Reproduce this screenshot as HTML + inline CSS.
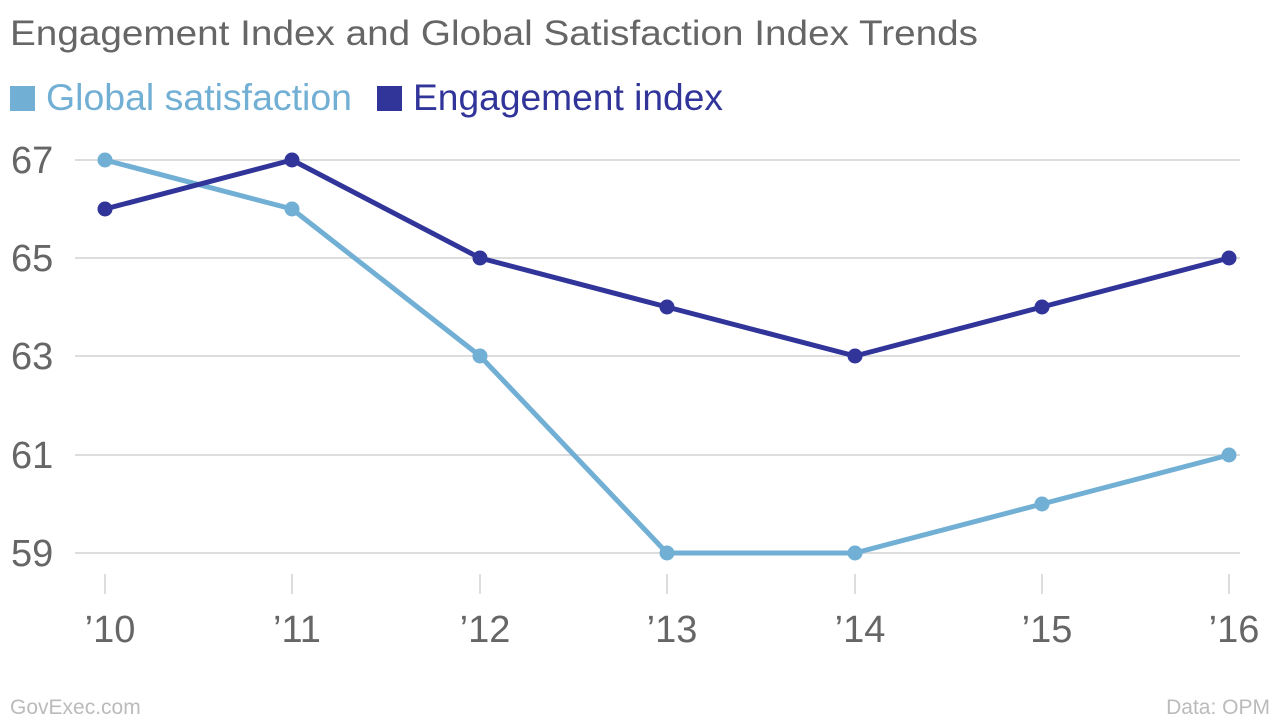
<!DOCTYPE html>
<html><head><meta charset="utf-8"><style>
body{margin:0;background:#fff;width:1280px;height:720px;overflow:hidden;font-family:"Liberation Sans",sans-serif}
</style></head><body>
<svg width="1280" height="720" xmlns="http://www.w3.org/2000/svg" font-family="Liberation Sans, sans-serif">
<text x="10" y="45" font-size="35" fill="#666" textLength="968" lengthAdjust="spacingAndGlyphs">Engagement Index and Global Satisfaction Index Trends</text>
<rect x="10" y="86" width="25" height="25" fill="#72afd4"/>
<text x="46" y="110" font-size="37" fill="#72afd4" textLength="306" lengthAdjust="spacingAndGlyphs">Global satisfaction</text>
<rect x="377" y="86" width="25" height="25" fill="#31359a"/>
<text x="413" y="110" font-size="37" fill="#31359a" textLength="310" lengthAdjust="spacingAndGlyphs">Engagement index</text>
<g stroke="#ddd" stroke-width="2">
<line x1="75" x2="1240" y1="160" y2="160"/><line x1="75" x2="1240" y1="258" y2="258"/>
<line x1="75" x2="1240" y1="356" y2="356"/><line x1="75" x2="1240" y1="455" y2="455"/>
<line x1="75" x2="1240" y1="553" y2="553"/>
<line x1="105" x2="105" y1="574" y2="594"/><line x1="292" x2="292" y1="574" y2="594"/>
<line x1="480" x2="480" y1="574" y2="594"/><line x1="667" x2="667" y1="574" y2="594"/>
<line x1="855" x2="855" y1="574" y2="594"/><line x1="1042" x2="1042" y1="574" y2="594"/>
<line x1="1229" x2="1229" y1="574" y2="594"/>
</g>
<g font-size="38" fill="#666">
<text x="11" y="173">67</text><text x="11" y="271">65</text><text x="11" y="369">63</text>
<text x="11" y="468">61</text><text x="11" y="566">59</text>
</g>
<g font-size="38" fill="#666" text-anchor="middle">
<text x="110" y="642">’10</text><text x="297" y="642">’11</text><text x="485" y="642">’12</text>
<text x="672" y="642">’13</text><text x="860" y="642">’14</text><text x="1047" y="642">’15</text>
<text x="1234" y="642">’16</text>
</g>
<g fill="#72afd4"><polyline fill="none" stroke="#72afd4" stroke-width="5" stroke-linejoin="round" points="105,160 292,209 480,356 667,553 855,553 1042,504 1229,455"/>
<circle cx="105" cy="160" r="7.5"/><circle cx="292" cy="209" r="7.5"/><circle cx="480" cy="356" r="7.5"/><circle cx="667" cy="553" r="7.5"/><circle cx="855" cy="553" r="7.5"/><circle cx="1042" cy="504" r="7.5"/><circle cx="1229" cy="455" r="7.5"/></g>
<g fill="#31359a"><polyline fill="none" stroke="#31359a" stroke-width="5" stroke-linejoin="round" points="105,209 292,160 480,258 667,307 855,356 1042,307 1229,258"/>
<circle cx="105" cy="209" r="7.5"/><circle cx="292" cy="160" r="7.5"/><circle cx="480" cy="258" r="7.5"/><circle cx="667" cy="307" r="7.5"/><circle cx="855" cy="356" r="7.5"/><circle cx="1042" cy="307" r="7.5"/><circle cx="1229" cy="258" r="7.5"/></g>
<text x="10" y="714" font-size="21" fill="#bbb">GovExec.com</text>
<text x="1270" y="714" font-size="21" fill="#bbb" text-anchor="end">Data: OPM</text>
</svg>
</body></html>
